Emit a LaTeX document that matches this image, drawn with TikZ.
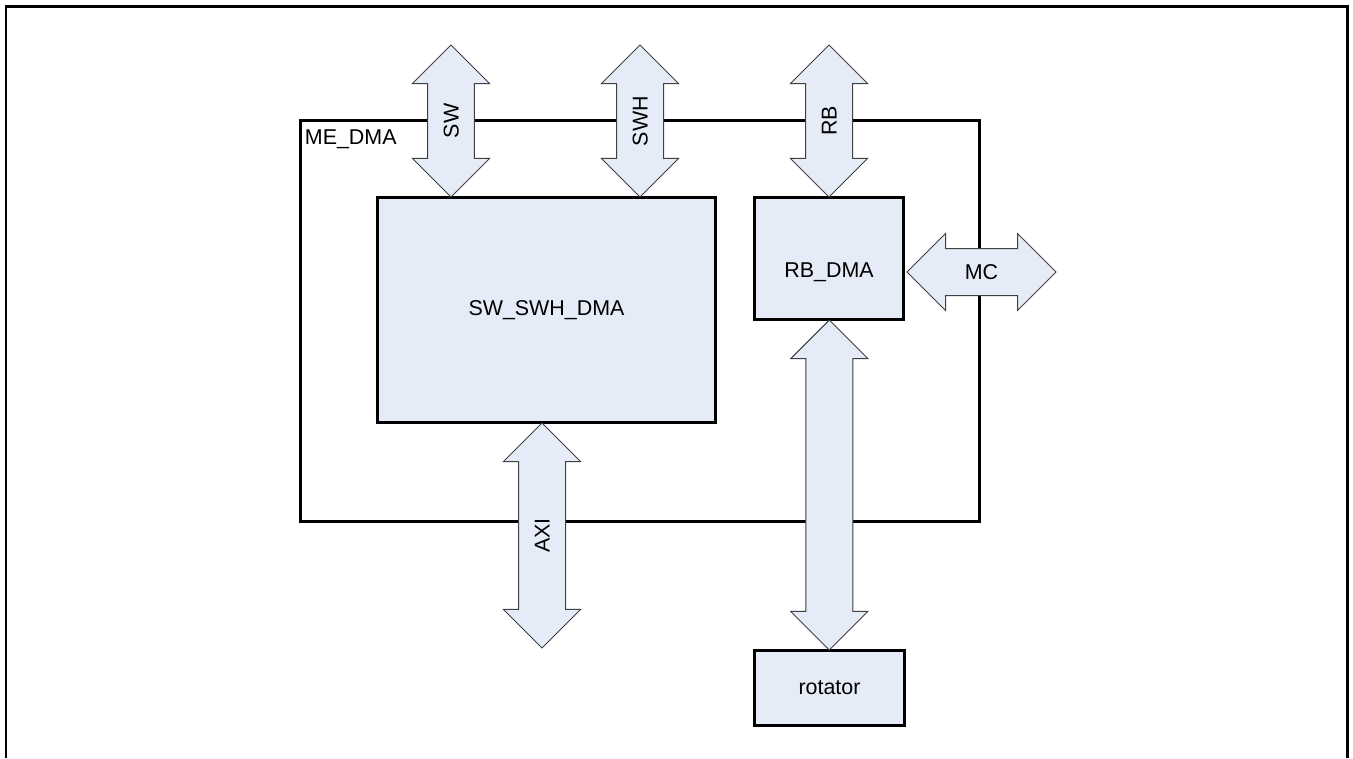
\documentclass[tikz,border=0pt]{standalone}
\usepackage{fontspec}
\setmainfont{Liberation Sans}
\usetikzlibrary{shapes.arrows, calc}
\definecolor{boxfill}{HTML}{E6ECF7}
\definecolor{busline}{HTML}{404040}
\tikzstyle{frame} = [
    rectangle,
    draw=black,
    line width=0.06cm,
    inner sep=0pt
]
\tikzstyle{block} = [
    rectangle,
    draw=black,
    line width=0.06cm,
    fill=boxfill,
    inner sep=0pt
]
\tikzstyle{bus} = [
    double arrow,
    double arrow head extend=0.3cm,
    double arrow tip angle=90,
    minimum width=1.52cm,
    text height=0.3cm,
    text depth=0cm,
    inner xsep=0pt,
    inner ysep=0.31cm,
    draw=busline,
    fill=boxfill,
    line width=0.02cm
]
\begin{document}
\begin{tikzpicture}[x=0.02cm, y=-0.02cm, font=\fontsize{12.2}{14.6}\selectfont]

\useasboundingbox (0,0) rectangle (1353,758);
\draw [line width=0.06cm] (6,758) -- (6,6) -- (1347,6) -- (1347,758);

\node (medma) [frame, minimum width=13.6cm, minimum height=8.02cm] at (640,321) {};
\node (medmalabel) [anchor=north west, inner sep=0pt, xshift=0.12cm, yshift=-0.2cm]
    at (medma.north west) {ME\_DMA};

\node (swswh) [block, minimum width=6.78cm, minimum height=4.52cm] at (546.5,310)
{SW\_SWH\_DMA};
\node (rbdma) [block, minimum width=3cm, minimum height=2.46cm] at (829,258.5) {};
\node (rotator) [block, minimum width=3.02cm, minimum height=1.5cm] at (829.5,687.5)
{rotator};

\node (sw) [bus, rotate=90, minimum height=3.04cm] at (451,121) {SW};
\node (swh) [bus, rotate=90, minimum height=3.04cm] at (640,121) {SWH};
\node (rb) [bus, rotate=90, minimum height=3.04cm] at (829,121) {RB};
\node (mc) [bus, minimum height=2.98cm] at (981.5,272) {MC};
\node (axi) [bus, rotate=90, minimum height=4.5cm] at (542,535.5) {AXI};
\node (rbrot) [bus, rotate=90, minimum height=6.6cm]
    at ($(rbdma.south)!0.5!(rotator.north)$) {};

\node (rbdmalabel) at (rbdma.center |- mc.center) {RB\_DMA};

\end{tikzpicture}
\end{document}
